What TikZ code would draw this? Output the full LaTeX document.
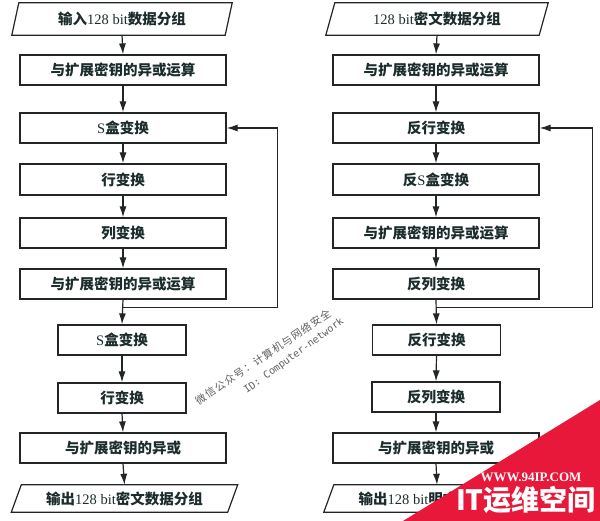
\documentclass[tikz,border=0pt]{standalone}
\usepackage{fontspec}
\setmainfont{Liberation Serif}
\newfontfamily\cjk{Noto Sans CJK SC}
\newfontfamily\wmmono{DejaVu Sans Mono}
\usetikzlibrary{calc,arrows.meta}
\definecolor{tc}{RGB}{28,44,44}
\definecolor{lc}{RGB}{35,38,38}
\definecolor{wm}{RGB}{95,95,95}
\definecolor{bannerred}{RGB}{232,24,58}
\newcommand{\zh}[1]{{\cjk\bfseries #1}}
\newcommand{\paraframe}[2]{\draw[pline] ($(#1.north west)+(#2,0)$) -- ($(#1.north east)+(#2,0)$) -- ($(#1.south east)+(-#2,0)$) -- ($(#1.south west)+(-#2,0)$) -- cycle;}
\begin{document}
\begin{tikzpicture}[x=1pt,y=-1pt,
  txt/.style={inner sep=0pt, text=tc, font=\fontsize{14.5}{16}\selectfont},
  box/.style={txt, draw=lc, line width=1.2pt, minimum height=30pt},
  wide/.style={box, minimum width=206pt},
  narrow/.style={box, minimum width=128pt},
  para/.style={txt, minimum height=32pt, minimum width=213pt},
  pline/.style={draw=lc, line width=1.2pt},
  arr/.style={draw=lc, line width=1.2pt, -{Latex[length=11pt,width=7pt]}},
]
\useasboundingbox (0,0) rectangle (600,521);
\fill[white] (0,0) rectangle (600,521);

% ---------- left column ----------
\node[para] (l1) at (122,19) {\zh{输入}128 bit\zh{数据分组}};
\paraframe{l1}{3.5}
\node[wide] (l2) at (123,70) {\zh{与扩展密钥的异或运算}};
\node[wide] (l3) at (123,128) {S\zh{盒变换}};
\node[wide, minimum height=31pt] (l4) at (123,179.5) {\zh{行变换}};
\node[wide] (l5) at (123,233) {\zh{列变换}};
\node[wide] (l6) at (123,284) {\zh{与扩展密钥的异或运算}};
\node[narrow] (l7) at (122,340) {S\zh{盒变换}};
\node[narrow] (l8) at (122,398) {\zh{行变换}};
\node[wide] (l9) at (123,448) {\zh{与扩展密钥的异或}};
\node[para, minimum height=27pt, minimum width=216pt] (l10) at (124.5,498.5) {\zh{输出}128 bit\zh{密文数据分组}};
\paraframe{l10}{5}

\draw[arr] (l1.south) -- (l2.north);
\draw[arr] (l2.south) -- (l3.north);
\draw[arr] (l3.south) -- (l4.north);
\draw[arr] (l4.south) -- (l5.north);
\draw[arr] (l5.south) -- (l6.north);
\draw[arr] (l6.south) -- (l7.north);
\draw[arr] (l7.south) -- (l8.north);
\draw[arr] (l8.south) -- (l9.north);
\draw[arr] (l9.south) -- (l10.north);
\coordinate (lj) at ($(l6.south)+(0,8)$);
\draw[arr] (lj) -| ($(l3.east)+(51,0)$) -- (l3.east);

% ---------- right column ----------
\node[para] (r1) at (437,19) {128 bit\zh{密文数据分组}};
\paraframe{r1}{4.5}
\node[wide] (r2) at (436,70) {\zh{与扩展密钥的异或运算}};
\node[wide] (r3) at (436,128) {\zh{反行变换}};
\node[wide, minimum height=31pt] (r4) at (436,179.5) {\zh{反}S\zh{盒变换}};
\node[wide] (r5) at (436,233) {\zh{与扩展密钥的异或运算}};
\node[wide] (r6) at (436,284) {\zh{反列变换}};
\node[narrow] (r7) at (436.5,340) {\zh{反行变换}};
\node[narrow] (r8) at (436,397) {\zh{反列变换}};
\node[wide] (r9) at (436,448) {\zh{与扩展密钥的异或}};
\node[para, minimum height=27pt, minimum width=216pt] (r10) at (437,498.5) {\zh{输出}128 bit\zh{明文数据分组}};
\paraframe{r10}{5}

\draw[arr] (r1.south) -- (r2.north);
\draw[arr] (r2.south) -- (r3.north);
\draw[arr] (r3.south) -- (r4.north);
\draw[arr] (r4.south) -- (r5.north);
\draw[arr] (r5.south) -- (r6.north);
\draw[arr] (r6.south) -- (r7.north);
\draw[arr] (r7.south) -- (r8.north);
\draw[arr] (r8.south) -- (r9.north);
\draw[arr] (r9.south) -- (r10.north);
\coordinate (rj) at ($(r6.south)+(0,8)$);
\draw[arr] (rj) -| ($(r3.east)+(53,0)$) -- (r3.east);

% ---------- watermark ----------
\node[rotate=34, inner sep=0pt, text=wm, font=\cjk\fontsize{10.5}{12}\selectfont\addfontfeatures{LetterSpace=10}] (w1) at (263,357) {微信公众号：计算机与网络安全};
\node[rotate=36, inner sep=0pt, text=wm, font=\wmmono\fontsize{10}{12}\selectfont] (w2) at (294,356) {ID: Computer-network};

% ---------- banner ----------
\fill[bannerred] (403,521) -- (600,400) -- (600,521) -- cycle;
\node[inner sep=0pt, text=white, font=\bfseries\fontsize{13}{14}\selectfont] (b1) at (531,477) {WWW.94IP.COM};
\node[inner sep=0pt, text=white, font=\cjk\bfseries\fontsize{28}{30}\selectfont] (b2) at (526,500) {IT运维空间};
\end{tikzpicture}
\end{document}
